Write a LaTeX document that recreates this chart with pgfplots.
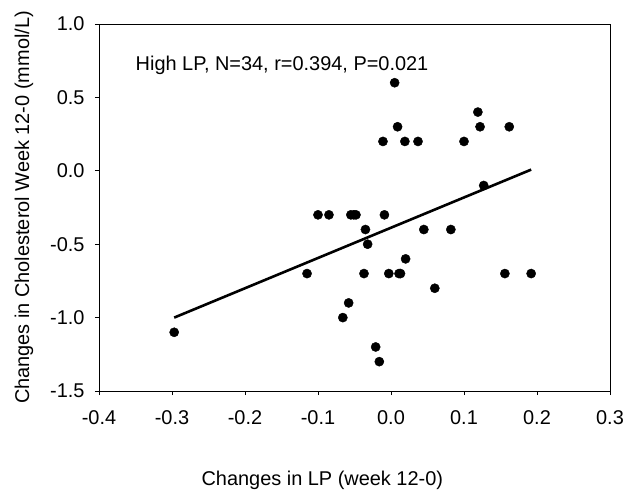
\documentclass[border=0pt]{standalone}
\usepackage{pgfplots}
\pgfplotsset{compat=1.18}
\usepackage{fontspec}
\setmainfont{Liberation Sans}
\newcommand{\ff}{\fontsize{20pt}{24pt}\selectfont}
\begin{document}
\begin{tikzpicture}
\begin{axis}[
  scale only axis,
  width=511bp, height=367bp,
  xmin=-0.4, xmax=0.3, ymin=-1.5, ymax=1.0,
  xtick={-0.4,-0.3,...,0.31}, ytick={-1.5,-1.0,...,1.01},
  xtick pos=bottom, ytick pos=left,
  tick align=outside, major tick length=4bp,
  axis line style={line width=0.9bp},
  tick style={line width=0.9bp, black},
  /pgf/number format/assume math mode=true,
  xticklabel style={font=\ff, yshift=-12bp, /pgf/number format/.cd, fixed, fixed zerofill, precision=1},
  yticklabel style={font=\ff, xshift=-7bp, /pgf/number format/.cd, fixed, fixed zerofill, precision=1},
  scaled ticks=false,
  xlabel={Changes in LP (week 12-0)},
  ylabel={Changes in Cholesterol Week 12-0 (mmol/L)},
  xlabel style={font=\ff, at={([yshift=-89bp]axis description cs:0.437,0)}, anchor=center},
  ylabel style={font=\ff, at={([xshift=-75bp]axis description cs:0,0.5)}, anchor=center},
  clip=false,
]
\addplot[only marks, mark=*, mark size=4.6bp, black] coordinates {
(-0.297,-1.1) (-0.115,-0.7) (-0.100,-0.3) (-0.085,-0.3) (-0.066,-1.0)
(-0.058,-0.9) (-0.055,-0.3) (-0.051,-0.3) (-0.048,-0.3) (-0.037,-0.7)
(-0.035,-0.4) (-0.032,-0.5) (-0.021,-1.2) (-0.016,-1.3) (-0.011,0.2)
(-0.009,-0.3) (-0.003,-0.7) (0.005,0.6) (0.009,0.3) (0.011,-0.7)
(0.013,-0.7) (0.019,0.2) (0.020,-0.6) (0.037,0.2) (0.045,-0.4)
(0.060,-0.8) (0.082,-0.4) (0.100,0.2) (0.119,0.4) (0.122,0.3)
(0.127,-0.1) (0.156,-0.7) (0.162,0.3) (0.192,-0.7)
};
\addplot[black, line width=2.6bp] coordinates {(-0.297,-1.0) (0.192,0.008)};
\node[anchor=west, inner sep=0pt, font=\ff] at (axis cs:-0.350,0.72) {High LP, N=34, r=0.394, P=0.021};
\end{axis}
\pgfresetboundingbox
\path[use as bounding box] (-99bp,-100bp) rectangle (529bp,391bp);
\end{tikzpicture}
\end{document}
